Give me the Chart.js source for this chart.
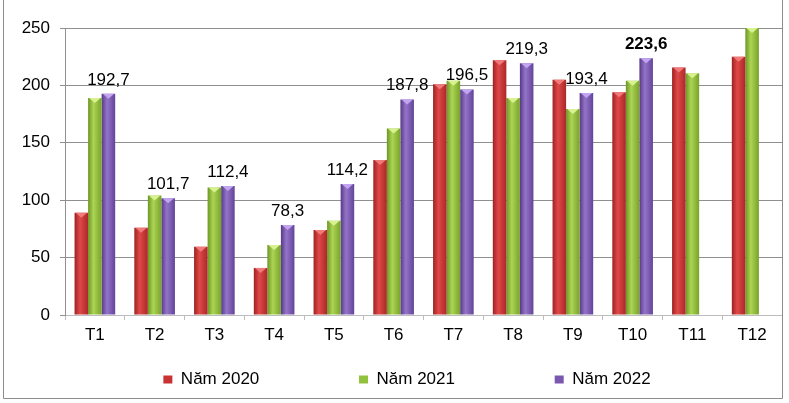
<!DOCTYPE html>
<html>
<head>
<meta charset="utf-8">
<script src="https://cdn.jsdelivr.net/npm/chart.js@4/dist/chart.umd.min.js"></script>
<style>
    html, body { margin: 0; padding: 0; background: #fff; }
    #wrap { width: 789px; height: 403px; }
</style>
</head>
<body>
<div id="wrap"><canvas id="myChart" width="789" height="403"></canvas></div>
<script>
const months = ['T1', 'T2', 'T3', 'T4', 'T5', 'T6', 'T7', 'T8', 'T9', 'T10', 'T11', 'T12'];
const seriesNames = ['Năm 2020', 'Năm 2021', 'Năm 2022'];
const values2020 = [89, 76, 59.5, 41, 74, 135, 201, 222, 205, 194, 215.5, 225];
const values2021 = [189, 104, 111, 61, 82, 162.5, 204, 189, 179.5, 204, 210.5, 250];
const values2022 = [192.7, 101.7, 112.4, 78.3, 114.2, 187.8, 196.5, 219.3, 193.4, 223.6, null, null];
const yTicks = [0, 50, 100, 150, 200, 250];
const boldMonth = 'T10';

document.addEventListener('DOMContentLoaded', () => {
    const ctx = document.getElementById('myChart').getContext('2d');
    const catPct = 0.68;
    const fontFamily = '"Liberation Sans", Arial, sans-serif';

    // left edge, light middle, right edge
    const barColors = [
        ['#9e2222', '#e04848', '#ab2828'],
        ['#6c9624', '#acd554', '#78a22b'],
        ['#573a86', '#9474c8', '#62449a'],
    ];
    const tipColors = ['#f07a7a', '#d9f291', '#c2a4f0'];
    const solidColors = ['#c83232', '#92c13e', '#7a58b0'];

    const barFill = (cols) => (c) => {
        const x = c.chart.scales.x;
        if (!x || c.dataIndex === undefined) return cols[1];
        const center = x.getPixelForValue(c.dataIndex);
        const bw = x.width / months.length * catPct / 3;
        const left = center - 1.5 * bw + c.datasetIndex * bw;
        const g = c.chart.ctx.createLinearGradient(left, 0, left + bw, 0);
        g.addColorStop(0, cols[0]);
        g.addColorStop(0.4, cols[1]);
        g.addColorStop(1, cols[2]);
        return g;
    };

    const fmt = (v) => v.toFixed(1).replace('.', ',');

    const barTips = {
        id: 'barTips',
        afterLayout(chart) {
            // legend sits a bit right of centre in the original
            chart.legend.left += 16;
            chart.legend.right += 16;
        },
        afterDatasetsDraw(chart) {
            const c = chart.ctx;
            chart.data.datasets.forEach((ds, di) => {
                chart.getDatasetMeta(di).data.forEach((bar, i) => {
                    if (ds.data[i] === null) return;
                    const w = bar.width / 2;
                    c.save();
                    c.fillStyle = tipColors[di];
                    c.beginPath();
                    c.moveTo(bar.x - w + 1, bar.y);
                    c.lineTo(bar.x + w - 1, bar.y);
                    c.lineTo(bar.x, bar.y + 5);
                    c.closePath();
                    c.fill();
                    c.restore();
                });
            });
            // value labels for the latest year
            const meta = chart.getDatasetMeta(2);
            meta.data.forEach((bar, i) => {
                const v = values2022[i];
                if (v === null) return;
                c.save();
                c.font = (months[i] === boldMonth ? 'bold ' : '') + '17px ' + fontFamily;
                c.fillStyle = '#000';
                c.textAlign = 'center';
                c.textBaseline = 'alphabetic';
                c.fillText(fmt(v), bar.x, bar.y - 9);
                c.restore();
            });
        },
        afterDraw(chart) {
            const c = chart.ctx;
            c.save();
            c.strokeStyle = '#8c8c8c';
            c.lineWidth = 1;
            c.beginPath();
            c.moveTo(3.5, 0);
            c.lineTo(3.5, 398.5);
            c.lineTo(782.5, 398.5);
            c.lineTo(782.5, 0);
            c.stroke();
            c.restore();
        },
    };

    const valueSets = [values2020, values2021, values2022];
    const data = {
        labels: months,
        datasets: valueSets.map((vals, i) => ({
            label: seriesNames[i],
            data: vals,
            backgroundColor: barFill(barColors[i]),
            borderWidth: 0,
            barPercentage: 1,
            categoryPercentage: catPct,
        })),
    };

    const config = {
        type: 'bar',
        data: data,
        plugins: [barTips],
        options: {
            responsive: false,
            animation: false,
            layout: {
                padding: { left: 0, right: 7, top: 28, bottom: 5 },
            },
            plugins: {
                tooltip: { enabled: false },
                legend: {
                    position: 'bottom',
                    labels: {
                        color: '#000',
                        font: { size: 17, family: fontFamily },
                        boxWidth: 9,
                        boxHeight: 8,
                        padding: 10,
                        generateLabels: (chart) => chart.data.datasets.map((ds, i) => ({
                            text: ds.label + (i < 2 ? '\u00a0'.repeat(19) : ''),
                            fillStyle: solidColors[i],
                            strokeStyle: solidColors[i],
                            lineWidth: 0,
                            datasetIndex: i,
                            hidden: false,
                        })),
                    },
                },
            },
            scales: {
                x: {
                    afterFit: (scale) => { scale.height = 46; },
                    grid: {
                        drawOnChartArea: false,
                        tickLength: 5,
                        color: '#bdbdbd',
                    },
                    border: { color: '#bdbdbd' },
                    ticks: {
                        color: '#000',
                        padding: 5,
                        font: { size: 17, family: fontFamily },
                    },
                },
                y: {
                    min: 0,
                    max: 250,
                    afterFit: (scale) => { scale.width = 65; },
                    afterBuildTicks: (scale) => {
                        scale.ticks = yTicks.map(v => ({ value: v }));
                    },
                    grid: {
                        color: '#8f8f8f',
                        tickLength: 5,
                    },
                    border: { color: '#8f8f8f' },
                    ticks: {
                        color: '#000',
                        padding: 10,
                        font: { size: 17, family: fontFamily },
                    },
                },
            },
        },
    };

    const myChart = new Chart(ctx, config);
});
</script>
</body>
</html>
